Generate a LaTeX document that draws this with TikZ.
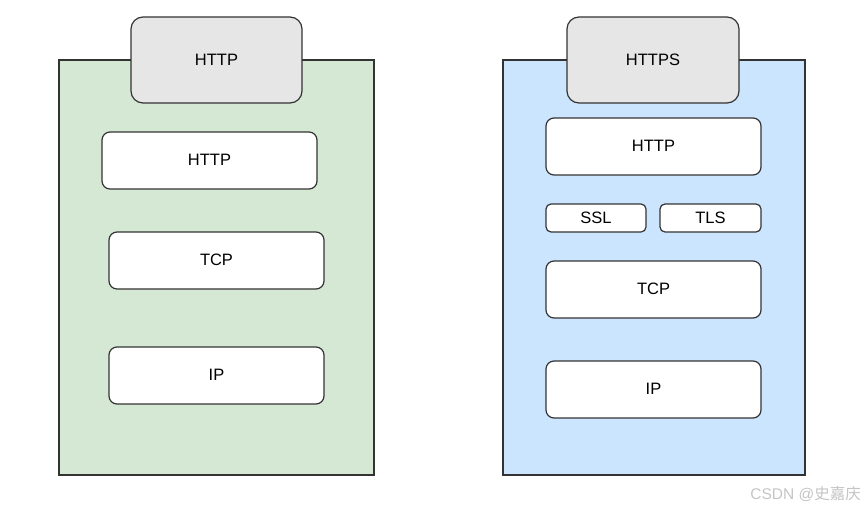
\documentclass[tikz,border=0pt]{standalone}
\usepackage{fontspec}
\setmainfont{Liberation Sans}
\newfontfamily\cjk{Noto Sans CJK SC}
\definecolor{greenfill}{HTML}{D5E8D4}
\definecolor{bluefill}{HTML}{CCE5FF}
\definecolor{grayfill}{HTML}{E6E6E6}
\definecolor{edge}{HTML}{333333}
\definecolor{wm}{HTML}{C4C4C4}
\begin{document}
\begin{tikzpicture}[x=1pt,y=-1pt,
  container/.style={draw=edge,line width=1.2pt},
  layerbox/.style={draw=edge,line width=1.2pt,rounded corners=8pt,fill=white},
  headbox/.style={draw=edge,line width=1.2pt,rounded corners=12pt,fill=grayfill},
  lbl/.style={font=\fontsize{16.5}{18}\selectfont}]
\useasboundingbox (0,0) rectangle (865,511);
% left stack
\draw[container,fill=greenfill] (59,60) rectangle (374,475);
\draw[headbox] (131,17) rectangle (302,103);
\node[lbl] (lhead) at (216.5,59.5) {HTTP};
\draw[layerbox] (102,132) rectangle (317,189);
\node[lbl] (lhttp) at (209.5,160) {HTTP};
\draw[layerbox] (109,232) rectangle (324,289);
\node[lbl] (ltcp) at (216.5,260) {TCP};
\draw[layerbox] (109,347) rectangle (324,404);
\node[lbl] (lip) at (216.5,375) {IP};
% right stack
\draw[container,fill=bluefill] (503,60) rectangle (805,475);
\draw[headbox] (567,17) rectangle (739,103);
\node[lbl] (rhead) at (653,59.5) {HTTPS};
\draw[layerbox] (546,118) rectangle (761,175);
\node[lbl] (rhttp) at (653.5,146) {HTTP};
\draw[layerbox,rounded corners=5pt] (546,204) rectangle (646,232);
\node[lbl] (rssl) at (596,217.5) {SSL};
\draw[layerbox,rounded corners=5pt] (660,204) rectangle (761,232);
\node[lbl] (rtls) at (710.5,217.5) {TLS};
\draw[layerbox] (546,261) rectangle (761,318);
\node[lbl] (rtcp) at (653.5,289) {TCP};
\draw[layerbox] (546,361) rectangle (761,418);
\node[lbl] (rip) at (653.5,389) {IP};
% watermark
\node[anchor=east,text=wm,font=\fontsize{15.5}{17}\selectfont,inner sep=0pt] (wmark) at (861,494) {CSDN @{\cjk 史嘉庆}};
\end{tikzpicture}
\end{document}
